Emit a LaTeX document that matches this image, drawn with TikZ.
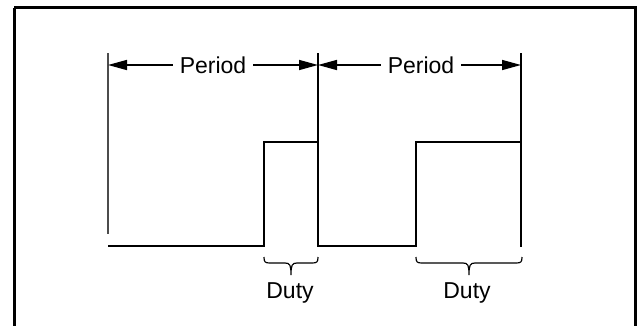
\documentclass[tikz,border=0pt]{standalone}
\usepackage{fontspec}
\setmainfont{Liberation Sans}
\usetikzlibrary{arrows.meta}
\begin{document}
\begin{tikzpicture}[x=1pt,y=-1pt,
  wave/.style={line width=1.5pt,line join=miter},
  marker/.style={line width=1.3pt},
  dimarrow/.style={line width=1.5pt,{Triangle[length=19pt,width=10pt]}-{Triangle[length=19pt,width=10pt]}},
  lbl/.style={font=\fontsize{23}{26}\selectfont,inner sep=0pt,anchor=base},
  gaplbl/.style={lbl,fill=white,inner xsep=7pt,inner ysep=2pt},
  bracestyle/.style={line width=1.2pt}]
\useasboundingbox (0,0) rectangle (638,325);
% frame
\draw[line width=3pt] (14,7.5) -- (635,7.5) -- (635,340) (14,7.5) -- (14,340);
% coordinates
\coordinate (m0t) at (108,53);
\coordinate (m0b) at (108,234);
\coordinate (m1t) at (318,53);
\coordinate (m1b) at (318,246);
\coordinate (m2t) at (521,53);
\coordinate (m2b) at (521,247);
\coordinate (a0) at (108,65);
\coordinate (a1) at (318,65);
\coordinate (a2) at (521,65);
% markers
\draw[marker,draw=black!70,line width=2pt] (m0t) -- (m0b);
\draw[marker] (m1t) -- (m1b);
\draw[marker] (m2t) -- (m2b);
% waveform
\draw[wave] (108,246) -- (264,246) -- (264,142) -- (318,142) -- (318,246) -- (416,246) -- (416,142) -- (521,142) -- (521,247);
% period arrows
\draw[dimarrow] (a0) -- (a1);
\draw[dimarrow] (a1) -- (a2);
\node[gaplbl] (per1) at (213,73.5) {Period};
\node[gaplbl] (per2) at (421,73.5) {Period};
% braces
\draw[bracestyle] (264,257) .. controls (264,262) and (265,263) .. (270,263) -- (285,263)
  .. controls (290,263) and (291,265) .. (291,275)
  .. controls (291,265) and (292,263) .. (297,263) -- (312,263)
  .. controls (317,263) and (318,262) .. (318,257);
\draw[bracestyle] (416,257) .. controls (416,262) and (417,263) .. (422,263) -- (463,263)
  .. controls (468,263) and (469,265) .. (469,275)
  .. controls (469,265) and (470,263) .. (475,263) -- (516,263)
  .. controls (521,263) and (522,262) .. (522,257);
\node[lbl] (duty1) at (290,298) {Duty};
\node[lbl] (duty2) at (467,298) {Duty};
\end{tikzpicture}
\end{document}
